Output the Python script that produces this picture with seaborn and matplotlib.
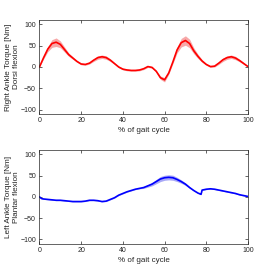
import numpy as np
import pandas as pd
import matplotlib
matplotlib.use('Agg')
import matplotlib.pyplot as plt
import seaborn as sns

# % of gait cycle sample points
right_x = [0, 2, 4, 6, 8, 10, 12, 14, 16, 18, 20, 22, 24, 26, 28, 30, 32, 34,
           36, 38, 40, 42, 44, 46, 48, 50, 52, 54, 56, 58, 60, 62, 64, 66, 68,
           70, 72, 74, 76, 78, 80, 82, 84, 86, 88, 90, 92, 94, 96, 98, 100]
right_mean = [0, 22, 42, 55, 58, 53, 41, 29, 21, 13, 7, 6, 9, 16, 22, 24, 22,
              16, 8, 0, -5, -7, -8, -8, -7, -4, 1, -1, -10, -25, -30, -14, 12,
              40, 57, 62, 55, 38, 25, 14, 6, 1, 2, 9, 17, 22, 24, 21, 15, 8, 1]
right_std = [0, 3, 6, 9, 10, 8, 6, 4, 3, 2, 2, 2, 2, 3, 4, 4, 4, 3, 2, 2, 2,
             2, 2, 2, 2, 2, 2, 2, 2, 4, 5, 3, 4, 7, 10, 11, 10, 7, 5, 3, 2, 2,
             2, 3, 4, 4, 4, 4, 3, 2, 1]

left_x = [0, 1, 2, 4, 6, 8, 10, 12, 14, 16, 18, 20, 22, 24, 26, 28, 30, 32,
          34, 36, 38, 40, 42, 44, 46, 48, 50, 52, 54, 56, 58, 60, 62, 64, 66,
          68, 70, 72, 74, 76, 77.5, 78, 80, 82, 84, 86, 88, 90, 92, 94, 96,
          98, 100]
left_mean = [0, -4, -5, -6, -7, -8, -8, -9, -10, -11, -11, -11, -10, -8, -8,
             -9, -11, -10, -6, -2, 4, 8, 12, 15, 18, 20, 22, 26, 30, 36, 42,
             45, 46, 45, 41, 36, 30, 22, 15, 9, 6, 16, 18, 19, 18, 16, 14, 12,
             10, 8, 5, 3, 1]
left_std = [0, 1, 1, 1, 1, 1, 1, 1, 1, 1, 1, 1, 1, 1, 1, 1, 1, 1, 1, 1, 1, 1,
            1, 1, 1, 1, 2, 3, 4, 5, 6, 6, 6, 6, 5, 4, 3, 2, 1, 1, 1, 1, 1, 1,
            1, 1, 1, 1, 1, 1, 1, 1, 1]

x_ticks = [0, 20, 40, 60, 80, 100]
y_ticks = [-100, -50, 0, 50, 100]

sns.set_theme(style='ticks')
plt.rcParams['font.family'] = ['Liberation Sans', 'DejaVu Sans']
DARK = '#262626'


def draw_panel(ax, x, mean, std, line_color, band_color, ylabel):
    """ Draw the mean curve with a shaded +/- std band.
    """
    df = pd.DataFrame({'x': x, 'mean': mean, 'std': std})
    ax.fill_between(df['x'], df['mean'] - df['std'], df['mean'] + df['std'],
                    color=band_color, linewidth=0)
    sns.lineplot(data=df, x='x', y='mean', ax=ax, color=line_color,
                 linewidth=1.2)
    ax.set_xlim(0, 100)
    ax.set_ylim(-110, 110)
    ax.set_xticks(x_ticks)
    ax.set_yticks(y_ticks)
    ax.set_xlabel('% of gait cycle', fontsize=5.8, color=DARK, labelpad=2)
    ax.set_ylabel(ylabel, fontsize=5.9, color=DARK, linespacing=1.05)
    ax.yaxis.set_label_coords(-0.095, 0.5)
    ax.tick_params(direction='in', length=2, width=0.5, labelsize=5.0,
                   colors=DARK, top=True, right=True, pad=2.5)
    for s in ax.spines.values():
        s.set_visible(True)
        s.set_linewidth(0.5)
        s.set_color(DARK)


fig = plt.figure(figsize=(2.74, 2.74), dpi=100)
ax1 = fig.add_axes([0.144, 0.584, 0.761, 0.343])
ax2 = fig.add_axes([0.144, 0.111, 0.761, 0.341])

draw_panel(ax1, right_x, right_mean, right_std, '#ff0000', '#f7a8a8',
           'Right Ankle Torque [Nm]\nDorsi flexion')
draw_panel(ax2, left_x, left_mean, left_std, '#0000ff', '#a8a8f7',
           'Left Ankle Torque [Nm]\nPlantar flexion')

fig.savefig('out.png', dpi=100)
